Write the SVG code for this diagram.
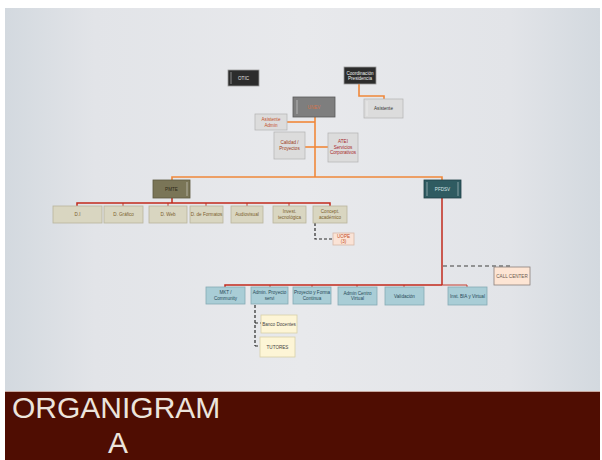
<svg xmlns="http://www.w3.org/2000/svg" width="602" height="460" viewBox="0 0 602 460">
<defs>
<linearGradient id="bg" x1="0" y1="0" x2="1" y2="0">
<stop offset="0" stop-color="#d3d9df"/>
<stop offset="0.15" stop-color="#e2e4e8"/>
<stop offset="0.5" stop-color="#e8e9ec"/>
<stop offset="0.85" stop-color="#e2e4e8"/>
<stop offset="1" stop-color="#d3d9df"/>
</linearGradient>
<style>
.t{font-family:"Liberation Sans",Arial,sans-serif;font-size:4.6px;text-anchor:middle}
.box{stroke-width:0.8}
.hl{fill:none;stroke:#ffffff;stroke-opacity:0.55;stroke-width:0.8}
.or{stroke:#f0883a;stroke-width:1.6;fill:none}
.rd{stroke:#c22a1c;stroke-width:1.5;fill:none}
.rdt{stroke:#c22a1c;stroke-width:0.9;fill:none}
.dk{stroke:#2a2a2a;stroke-width:1.2;fill:none;stroke-dasharray:3 2}
.gd{stroke:#777;stroke-width:1.4;fill:none;stroke-dasharray:4 3}
.dark{fill:#2c2c2c;stroke:#9a9a9a}
.grey{fill:#dcdcdc;stroke:#b8b8b8}
.beige{fill:#d9d6c1;stroke:#b9b59c}
.blue{fill:#a9cdd6;stroke:#85aab4}
.yel{fill:#fdf5d6;stroke:#d8cfa8}
</style>
</defs>
<rect x="0" y="0" width="602" height="460" fill="#ffffff"/>
<rect x="5" y="8" width="595" height="452" fill="url(#bg)"/>
<g id="connectors">
<path class="or" d="M359 84 V96 H384 V99"/>
<path class="or" d="M315 117 V177"/>
<path class="or" d="M287 122 H315"/>
<path class="or" d="M305 147 H328"/>
<path class="or" d="M172 180 V177 H442 V180"/>
<path class="rd" d="M172 198 V203"/>
<path class="rd" d="M77 206 V203 H330 V206"/>
<path class="rdt" d="M123 203 V206 M168 203 V206 M206 203 V206 M247 203 V206 M289 203 V206"/>
<path class="dk" d="M315 223 V239 H333"/>
<path class="rd" d="M442 198 V285"/>
<path class="rd" d="M225 287 V285 H442"/>
<path class="rdt" d="M442 285 H467 V287 M270 285 V287 M312 285 V287 M357 285 V287 M404 285 V287"/>
<path class="gd" d="M443 266 H512"/>
<path class="dk" d="M255 305 V346 M255 323 H261 M255 346 H260"/>
</g>
<g id="otic"><rect class="box dark" x="228" y="70" width="31" height="16"/><line class="hl" x1="231" y1="72" x2="231" y2="84"/><text class="t" x="243.5" y="79.5" fill="#e0e0e0">OTIC</text></g>
<g id="coordinacion"><rect class="box dark" x="344" y="67" width="32" height="17"/><text class="t" x="360" y="74.5" fill="#f0f0f0">Coordinación</text><text class="t" x="360" y="80" fill="#f0f0f0">Presidencia</text></g>
<g id="asistente"><rect class="box grey" x="364" y="99" width="39" height="19"/><line class="hl" x1="367" y1="101" x2="367" y2="116"/><text class="t" x="383.5" y="110" fill="#333">Asistente</text></g>
<g id="unev"><rect class="box" x="293" y="97" width="42" height="20" fill="#7e7e7e" stroke="#5a5a5a"/><line class="hl" x1="297" y1="100" x2="297" y2="114"/><text class="t" x="314" y="108.5" fill="#d4744c">UNEV</text></g>
<g id="asistente-admin"><rect class="box grey" x="255" y="114" width="32" height="16"/><text class="t" x="271" y="121" fill="#c4502a">Asistente</text><text class="t" x="271" y="126.5" fill="#c4502a">Admin</text></g>
<g id="calidad"><rect class="box grey" x="274" y="132" width="31" height="27"/><text class="t" x="289.5" y="144" fill="#9c3c22">Calidad /</text><text class="t" x="289.5" y="149.5" fill="#9c3c22">Proyectos</text></g>
<g id="atei"><rect class="box grey" x="328" y="133" width="30" height="29"/><text class="t" x="343" y="143" fill="#a8282a">ATEI</text><text class="t" x="343" y="148.5" fill="#a8282a">Servicios</text><text class="t" x="343" y="154" fill="#a8282a">Corporativos</text></g>
<g id="pmte"><rect class="box" x="153" y="180" width="37" height="18" fill="#7a7557" stroke="#5c5940"/><line class="hl" x1="187" y1="182" x2="187" y2="196"/><text class="t" x="171.5" y="190.5" fill="#2e2a18">PMTE</text></g>
<g id="pfdsv"><rect class="box" x="424" y="180" width="37" height="18" fill="#2f5b61" stroke="#1f4046"/><line class="hl" x1="427" y1="182" x2="427" y2="196"/><line class="hl" x1="458" y1="182" x2="458" y2="196"/><text class="t" x="442.5" y="190.5" fill="#d6e4e6">PFDSV</text></g>
<g id="di"><rect class="box beige" x="53" y="206" width="49" height="17"/><text class="t" x="77.5" y="216" fill="#7a5e2c">D.I</text></g>
<g id="dgrafico"><rect class="box beige" x="104" y="206" width="39" height="17"/><text class="t" x="123.5" y="216" fill="#7a5e2c">D. Gráfico</text></g>
<g id="dweb"><rect class="box beige" x="149" y="206" width="38" height="17"/><text class="t" x="168" y="216" fill="#7a5e2c">D. Web</text></g>
<g id="dformatos"><rect class="box beige" x="190" y="206" width="33" height="17"/><text class="t" x="206.5" y="216" fill="#7a5e2c">D. de Formatos</text></g>
<g id="audiovisual"><rect class="box beige" x="231" y="206" width="32" height="17"/><text class="t" x="247" y="216" fill="#7a5e2c">Audiovisual</text></g>
<g id="invest"><rect class="box beige" x="273" y="206" width="33" height="17"/><text class="t" x="289.5" y="213" fill="#7a5e2c">Invest.</text><text class="t" x="289.5" y="218.5" fill="#7a5e2c">tecnológica</text></g>
<g id="concept"><rect class="box beige" x="313" y="206" width="34" height="17"/><text class="t" x="330" y="213" fill="#7a5e2c">Concept.</text><text class="t" x="330" y="218.5" fill="#7a5e2c">académico</text></g>
<g id="uope"><rect class="box" x="333" y="233" width="21" height="12" fill="#fbe3d6" stroke="#d8b8a8"/><text class="t" x="343.5" y="238" fill="#c2502a">UOPE</text><text class="t" x="343.5" y="243" fill="#c2502a">(3)</text></g>
<g id="callcenter"><rect class="box" x="494" y="267" width="36" height="18" fill="#fde5d4" stroke="#8a7f7a"/><text class="t" x="512" y="277.5" fill="#6a5a50">CALL CENTER</text></g>
<g id="mkt"><rect class="box blue" x="206" y="287" width="39" height="17"/><text class="t" x="225.5" y="294" fill="#274a58">MKT /</text><text class="t" x="225.5" y="299.5" fill="#274a58">Community</text></g>
<g id="admin-proyecto"><rect class="box blue" x="251" y="287" width="37" height="17"/><text class="t" x="269.5" y="294" fill="#274a58">Admin. Proyecto</text><text class="t" x="269.5" y="299.5" fill="#274a58">servi</text></g>
<g id="proyecto-forma"><rect class="box blue" x="293" y="287" width="38" height="17"/><text class="t" x="312" y="294" fill="#274a58">Proyecto y Forma</text><text class="t" x="312" y="299.5" fill="#274a58">Continua</text></g>
<g id="admin-centro"><rect class="box blue" x="338" y="287" width="39" height="18"/><text class="t" x="357.5" y="294.5" fill="#274a58">Admin Centro</text><text class="t" x="357.5" y="300" fill="#274a58">Virtual</text></g>
<g id="validacion"><rect class="box blue" x="385" y="287" width="39" height="18"/><text class="t" x="404.5" y="297.5" fill="#274a58">Validación</text></g>
<g id="inst-bia"><rect class="box blue" x="448" y="287" width="39" height="18"/><text class="t" x="467.5" y="297.5" fill="#274a58">Inst. BIA y Virtual</text></g>
<g id="banco"><rect class="box yel" x="261" y="315" width="36" height="18"/><text class="t" x="279" y="325.5" fill="#444">Banco Docentes</text></g>
<g id="tutores"><rect class="box yel" x="260" y="337" width="35" height="20"/><text class="t" x="277.5" y="348.5" fill="#444">TUTORES</text></g>
<rect x="5" y="391" width="595" height="69" fill="#4f0d02"/>
<line x1="5" y1="391.5" x2="600" y2="391.5" stroke="#c8a8a0" stroke-width="1"/>
<text x="12" y="418" font-family="'Liberation Sans',Arial,sans-serif" font-size="30" fill="#ece4dc">ORGANIGRAM</text>
<text x="108" y="453" font-family="'Liberation Sans',Arial,sans-serif" font-size="30" fill="#ece4dc">A</text>
</svg>
